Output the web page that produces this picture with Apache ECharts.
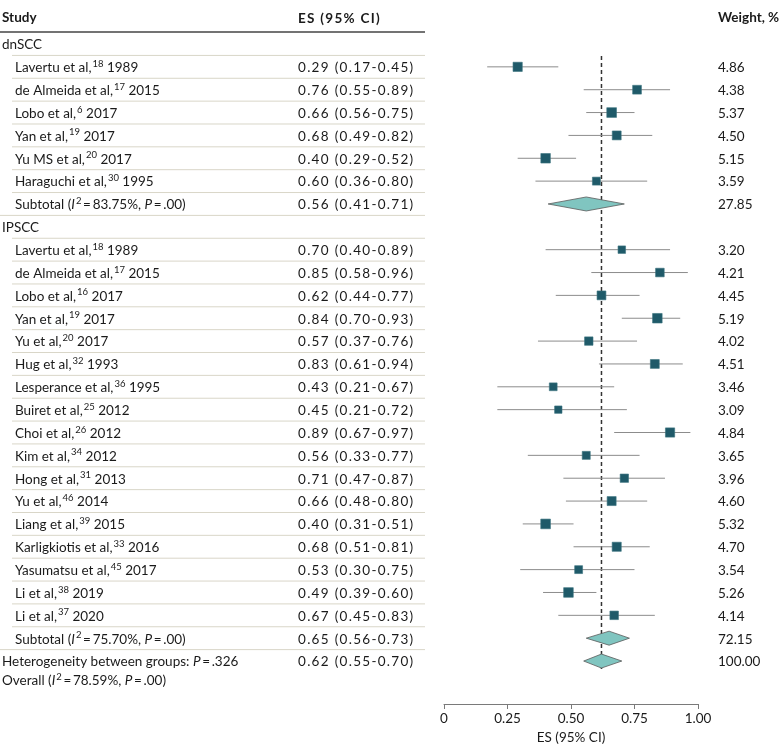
<!DOCTYPE html>
<html><head><meta charset="utf-8">
<script src="https://cdn.jsdelivr.net/npm/echarts@6/dist/echarts.min.js"></script>
<style>html,body{margin:0;padding:0;background:#fff}#c{width:780px;height:755px}</style>
</head><body><div id="c"></div>
<script>
// ---- data ----
const dnNames = ['Lavertu et al,', 'de Almeida et al,', 'Lobo et al,', 'Yan et al,', 'Yu MS et al,', 'Haraguchi et al,'];
const dnRefs  = ['18', '17', '6', '19', '20', '30'];
const dnYears = ['1989', '2015', '2017', '2017', '2017', '1995'];
const dnES = [0.29, 0.76, 0.66, 0.68, 0.40, 0.60];
const dnLo = [0.17, 0.55, 0.56, 0.49, 0.29, 0.36];
const dnHi = [0.45, 0.89, 0.75, 0.82, 0.52, 0.80];
const dnW  = [4.86, 4.38, 5.37, 4.50, 5.15, 3.59];

const ipNames = ['Lavertu et al,', 'de Almeida et al,', 'Lobo et al,', 'Yan et al,', 'Yu et al,', 'Hug et al,', 'Lesperance et al,', 'Buiret et al,', 'Choi et al,', 'Kim et al,', 'Hong et al,', 'Yu et al,', 'Liang et al,', 'Karligkiotis et al,', 'Yasumatsu et al,', 'Li et al,', 'Li et al,'];
const ipRefs  = ['18', '17', '16', '19', '20', '32', '36', '25', '26', '34', '31', '46', '39', '33', '45', '38', '37'];
const ipYears = ['1989', '2015', '2017', '2017', '2017', '1993', '1995', '2012', '2012', '2012', '2013', '2014', '2015', '2016', '2017', '2019', '2020'];
const ipES = [0.70, 0.85, 0.62, 0.84, 0.57, 0.83, 0.43, 0.45, 0.89, 0.56, 0.71, 0.66, 0.40, 0.68, 0.53, 0.49, 0.67];
const ipLo = [0.40, 0.58, 0.44, 0.70, 0.37, 0.61, 0.21, 0.21, 0.67, 0.33, 0.47, 0.48, 0.31, 0.51, 0.30, 0.39, 0.45];
const ipHi = [0.89, 0.96, 0.77, 0.93, 0.76, 0.94, 0.67, 0.72, 0.97, 0.77, 0.87, 0.80, 0.51, 0.81, 0.75, 0.60, 0.83];
const ipW  = [3.20, 4.21, 4.45, 5.19, 4.02, 4.51, 3.46, 3.09, 4.84, 3.65, 3.96, 4.60, 5.32, 4.70, 3.54, 5.26, 4.14];

const groupNames = ['dnSCC', 'IPSCC'];
const subES = [0.56, 0.65];
const subLo = [0.41, 0.56];
const subHi = [0.71, 0.73];
const subW  = [27.85, 72.15];
const subI2 = ['83.75%', '75.70%'];
const subP  = ['.00', '.00'];

const overallES = 0.62, overallLo = 0.55, overallHi = 0.70, overallW = 100.00;
const overallI2 = '78.59%', overallP = '.00', hetP = '.326';

const tickLabels = ['0', '0.25', '0.50', '0.75', '1.00'];
const headers = ['Study', 'ES (95% CI)', 'Weight, %'];

// ---- build rows ----
const fmt = v => v.toFixed(2);
const ci = (e, l, h) => fmt(e) + ' (' + fmt(l) + '-' + fmt(h) + ')';
const rows = [];
let pos = 0;
const groupsData = [
  [dnNames, dnRefs, dnYears, dnES, dnLo, dnHi, dnW],
  [ipNames, ipRefs, ipYears, ipES, ipLo, ipHi, ipW]
];
groupsData.forEach((g, gi) => {
  rows.push({kind: 'group', pos: pos++, label: groupNames[gi]});
  g[0].forEach((n, i) => {
    rows.push({kind: 'study', pos: pos++, name: n, ref: g[1][i], year: g[2][i], es: g[3][i], lo: g[4][i], hi: g[5][i], w: g[6][i]});
  });
  rows.push({kind: 'subtotal', pos: pos++, i2: subI2[gi], p: subP[gi], es: subES[gi], lo: subLo[gi], hi: subHi[gi], w: subW[gi]});
});
rows.push({kind: 'overall', pos: pos++, es: overallES, lo: overallLo, hi: overallHi, w: overallW});
const lastPos = pos - 1;

const FONT = 'Lato, "Liberation Sans", sans-serif';
const FS = 13.5;
const TXT = '#1a1a1a';
const rich = {
  n: {fontSize: FS, fontFamily: FONT, fill: TXT, lineHeight: 16, verticalAlign: 'bottom'},
  t: {fontSize: FS, fontFamily: FONT, fill: TXT, lineHeight: 16, verticalAlign: 'bottom', padding: [0, 1.3, 0, 0]},
  tb: {fontSize: FS, fontFamily: FONT, fontWeight: 'bold', fill: TXT, lineHeight: 16, verticalAlign: 'bottom', padding: [0, 1.3, 0, 0]},
  i: {fontSize: FS, fontFamily: FONT, fill: TXT, fontStyle: 'italic', lineHeight: 16, verticalAlign: 'bottom'},
  s: {fontSize: 9.5, fontFamily: FONT, fill: TXT, lineHeight: 16, verticalAlign: 'top', padding: [0, 0, 0, 1]}
};
// per-character tokens give the slight tracking of the numeric column
const tracked = (str, tok) => str.split('').map(c => '{' + (tok || 't') + '|' + c + '}').join('');
function txt(x, y, text, extra) {
  return {type: 'text', x: x, y: y, style: Object.assign({text: text, rich: rich, fill: TXT, font: FS + 'px ' + FONT, verticalAlign: 'middle', align: 'left'}, extra || {})};
}
function sepLine(x1, x2, y, color, w) {
  return {type: 'line', shape: {x1: x1, y1: y, x2: x2, y2: y}, style: {stroke: color, lineWidth: w || 1}};
}
const SEP = '#d9d6c8';
const COL_ES = 298, COL_W = 718, TABLE_R = 425;

function renderText(params, api) {
  const r = rows[params.dataIndex];
  const y = api.coord([0, r.pos])[1];
  const yNext = api.coord([0, r.pos + 0.5])[1];
  const ch = [];
  if (r.kind === 'group') {
    ch.push(txt(2, y, '{n|' + r.label + '}'));
    ch.push(sepLine(12, TABLE_R, yNext, SEP));
  } else if (r.kind === 'study') {
    ch.push(txt(15, y, '{n|' + r.name + '}{s|' + r.ref + '}{n| ' + r.year + '}'));
    ch.push(txt(COL_ES, y, tracked(ci(r.es, r.lo, r.hi))));
    ch.push(txt(COL_W, y, '{n|' + fmt(r.w) + '}'));
    ch.push(sepLine(12, TABLE_R, yNext, SEP));
  } else if (r.kind === 'subtotal') {
    ch.push(txt(15, y, '{n|Subtotal (}{i|I}{s|2}{n|\u2009=\u2009' + r.i2 + ', }{i|P}{n|\u2009=\u2009' + r.p + ')}'));
    ch.push(txt(COL_ES, y, tracked(ci(r.es, r.lo, r.hi))));
    ch.push(txt(COL_W, y, '{n|' + fmt(r.w) + '}'));
    ch.push(sepLine(0, TABLE_R, yNext, SEP));
  } else {
    const y2 = api.coord([0, r.pos + 0.83])[1];
    ch.push(txt(2, y, '{n|Heterogeneity between groups: }{i|P}{n|\u2009=\u2009' + hetP + '}'));
    ch.push(txt(2, y2, '{n|Overall (}{i|I}{s|2}{n|\u2009=\u2009' + overallI2 + ', }{i|P}{n|\u2009=\u2009' + overallP + ')}'));
    ch.push(txt(COL_ES, y, tracked(ci(r.es, r.lo, r.hi))));
    ch.push(txt(COL_W, y, '{n|' + fmt(r.w) + '}'));
  }
  return {type: 'group', children: ch};
}

function renderHeader(params, api) {
  const y = api.coord([0, -1.14])[1];
  const yl = api.coord([0, -0.53])[1];
  const hf = 'bold ' + FS + 'px ' + FONT;
  return {type: 'group', children: [
    {type: 'text', x: 2, y: y, style: {text: headers[0], font: hf, fill: TXT, verticalAlign: 'middle'}},
    txt(COL_ES, y, tracked(headers[1], 'tb')),
    {type: 'text', x: COL_W, y: y, style: {text: headers[2], font: hf, fill: TXT, verticalAlign: 'middle'}},
    sepLine(0, TABLE_R, yl, '#444', 1.5)
  ]};
}

function renderStudy(params, api) {
  const r = studies[params.dataIndex];
  const c = api.coord([r.es, r.pos]);
  const l = api.coord([r.lo, r.pos]);
  const h = api.coord([r.hi, r.pos]);
  const s = 4.2 * Math.sqrt(r.w);
  return {type: 'group', children: [
    {type: 'line', shape: {x1: l[0], y1: c[1], x2: h[0], y2: c[1]}, style: {stroke: '#8c8c8c', lineWidth: 1}},
    {type: 'rect', shape: {x: c[0] - s / 2, y: c[1] - s / 2, width: s, height: s}, style: {fill: '#1f5a69', stroke: '#3d7480', lineWidth: 0.6}}
  ]};
}

function renderDiamond(params, api) {
  const r = diamonds[params.dataIndex];
  const c = api.coord([r.es, r.pos]);
  const l = api.coord([r.lo, r.pos]);
  const h = api.coord([r.hi, r.pos]);
  const hh = 7;
  return {type: 'polygon', shape: {points: [[l[0], c[1]], [c[0], c[1] - hh], [h[0], c[1]], [c[0], c[1] + hh]]},
    style: {fill: '#80c5c0', stroke: '#5a5a5a', lineWidth: 0.8}};
}

function renderRef(params, api) {
  const a = api.coord([overallES, 0.53]);
  const b = api.coord([overallES, lastPos + 0.4]);
  return {type: 'line', shape: {x1: a[0], y1: a[1], x2: b[0], y2: b[1]}, style: {stroke: '#333', lineWidth: 1.5, lineDash: [4, 3]}};
}

const studies = rows.filter(x => x.kind === 'study');
const diamonds = rows.filter(x => x.kind === 'subtotal' || x.kind === 'overall');

const chart = echarts.init(document.getElementById('c'), null, {renderer: 'canvas'});
chart.setOption({
  animation: false,
  grid: {left: 444, width: 254, top: 44, height: 660},
  xAxis: {
    type: 'value', min: 0, max: 1, interval: 0.25, position: 'bottom',
    splitLine: {show: false},
    axisLine: {show: true, onZero: false, lineStyle: {color: '#7a7a7a', width: 1}},
    axisTick: {show: true, length: 5, lineStyle: {color: '#7a7a7a'}},
    axisLabel: {color: TXT, fontSize: FS, fontFamily: FONT, margin: 8, formatter: (v) => tickLabels[Math.round(v / 0.25)]},
    name: 'ES (95% CI)', nameLocation: 'middle', nameGap: 27,
    nameTextStyle: {color: TXT, fontSize: FS, fontFamily: FONT}
  },
  yAxis: {type: 'value', min: 0, max: 28.88, inverse: true, show: false},
  series: [
    {type: 'custom', clip: false, renderItem: renderRef, data: [[overallES, 0]], z: 1},
    {type: 'custom', clip: false, renderItem: renderStudy, data: studies.map(r => [r.es, r.pos]), z: 3},
    {type: 'custom', clip: false, renderItem: renderDiamond, data: diamonds.map(r => [r.es, r.pos]), z: 3},
    {type: 'custom', clip: false, renderItem: renderText, data: rows.map(r => [0, r.pos]), z: 2, silent: true},
    {type: 'custom', clip: false, renderItem: renderHeader, data: [[0, -1]], z: 2, silent: true}
  ]
});
</script></body></html>
